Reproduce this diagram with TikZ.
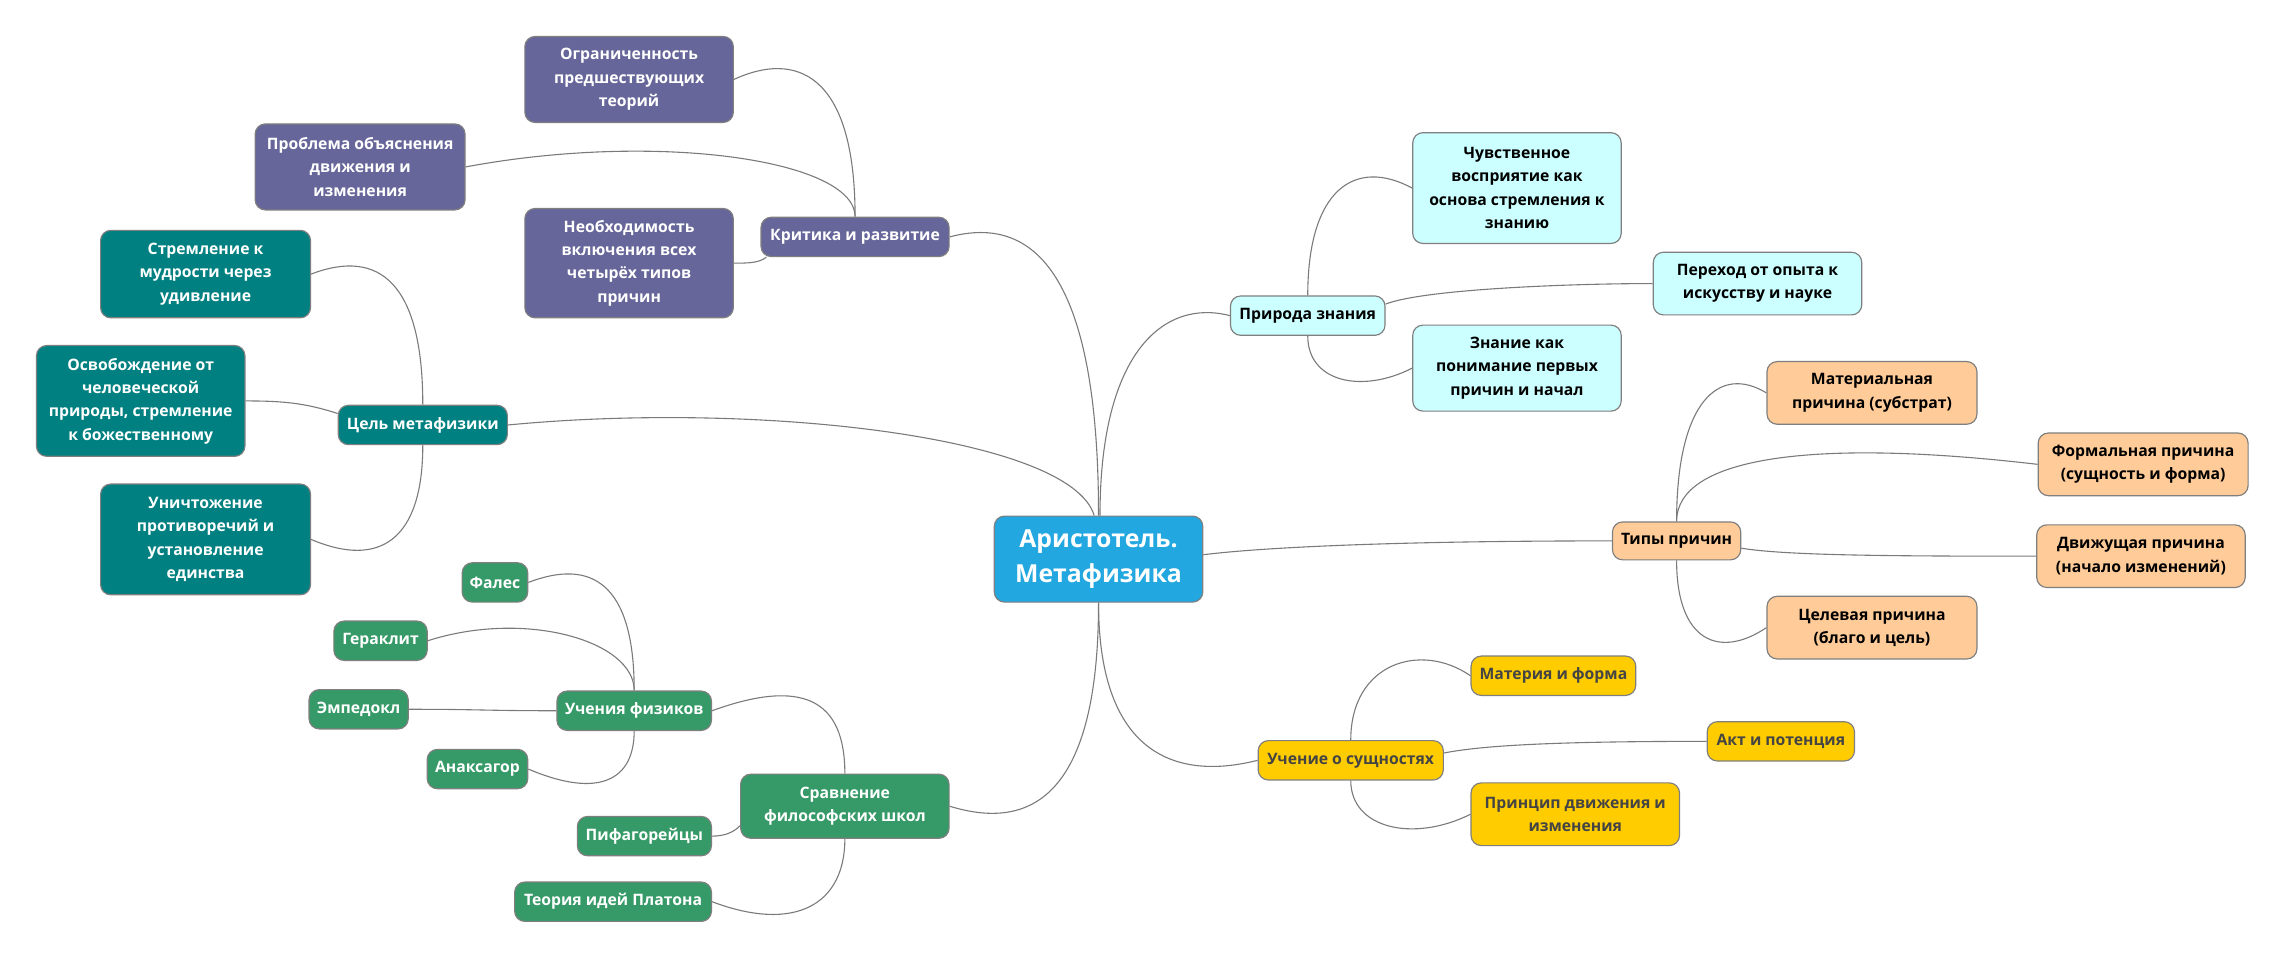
\documentclass[tikz,border=0pt]{standalone}
\usepackage{fontspec}
\setmainfont{Open Sans}
\definecolor{cblue}{HTML}{22A7E0}
\definecolor{cpurple}{HTML}{67669A}
\definecolor{cteal}{HTML}{008080}
\definecolor{cgreen}{HTML}{359A67}
\definecolor{ccyan}{HTML}{CCFFFF}
\definecolor{corange}{HTML}{FFCC99}
\definecolor{cyellow}{HTML}{FFCC00}
\definecolor{cytext}{HTML}{444444}
\definecolor{cborder}{HTML}{7F7F7F}
\definecolor{cedge}{HTML}{7A7A7A}
\pgfdeclarelayer{bg}
\pgfsetlayers{bg,main}
\tikzset{
  box/.style={draw=cborder, line width=0.8pt, rounded corners=7pt, inner sep=0pt,
    align=center, font=\bfseries\fontsize{10.8}{16}\selectfont},
  rootbox/.style={box, fill=cblue, text=white, font=\bfseries\fontsize{17}{24.5}\selectfont},
  purp/.style={box, fill=cpurple, text=white},
  tealbox/.style={box, fill=cteal, text=white},
  greenbox/.style={box, fill=cgreen, text=white},
  cyanbox/.style={box, fill=ccyan, text=black},
  orangebox/.style={box, fill=corange, text=black},
  yellowbox/.style={box, fill=cyellow, text=cytext},
  sz/.style 2 args={minimum width=#1pt, minimum height=#2pt},
  edge/.style={draw=cedge, line width=0.75pt}
}
\begin{document}
\begin{tikzpicture}[x=1pt,y=1pt]
\begin{pgfonlayer}{bg}
\fill[white] (0,0) rectangle (1568,-657.8);
\end{pgfonlayer}
\useasboundingbox (0,0) rectangle (1568,-657.8);
% root
\node[rootbox, sz={143}{59}] (root) at (753.5,-383.5) {Аристотель.\\Метафизика};
% purple
\node[purp, sz={129}{27}] (krit) at (586.5,-162.5) {Критика и развитие};
\node[purp, sz={143}{59}] (ogr) at (431.5,-54.5) {Ограниченность\\предшествующих\\теорий};
\node[purp, sz={144}{59}] (prob) at (247,-114.5) {Проблема объяснения\\движения и\\изменения};
\node[purp, sz={143}{75}] (neob) at (431.5,-180.5) {Необходимость\\включения всех\\четырёх типов\\причин};
% teal
\node[tealbox, sz={116}{27}] (cel) at (290,-291.5) {Цель метафизики};
\node[tealbox, sz={144}{60}] (strem) at (141,-188) {Стремление к\\мудрости через\\удивление};
\node[tealbox, sz={143}{76}] (osv) at (96.5,-275) {Освобождение от\\человеческой\\природы, стремление\\к божественному};
\node[tealbox, sz={144}{76}] (unich) at (141,-370) {Уничтожение\\противоречий и\\установление\\единства};
% green
\node[greenbox, sz={143}{44}] (sravn) at (579.5,-553) {Сравнение\\философских школ};
\node[greenbox, sz={106}{27}] (fiz) at (435,-487.5) {Учения физиков};
\node[greenbox, sz={45}{27}] (fales) at (339.5,-399.5) {Фалес};
\node[greenbox, sz={64}{27}] (ger) at (261,-439.5) {Гераклит};
\node[greenbox, sz={68}{27}] (emp) at (246,-486.5) {Эмпедокл};
\node[greenbox, sz={69}{27}] (anak) at (327.5,-527.5) {Анаксагор};
\node[greenbox, sz={92}{27}] (pifag) at (442,-573.5) {Пифагорейцы};
\node[greenbox, sz={135}{27}] (plat) at (420.5,-618.5) {Теория идей Платона};
% cyan
\node[cyanbox, sz={106}{27}] (pri) at (897,-216.5) {Природа знания};
\node[cyanbox, sz={143}{76}] (chuv) at (1040.5,-129) {Чувственное\\восприятие как\\основа стремления к\\знанию};
\node[cyanbox, sz={143}{43}] (perh) at (1205.5,-194.5) {Переход от опыта к\\искусству и науке};
\node[cyanbox, sz={143}{59}] (znan) at (1040.5,-252.5) {Знание как\\понимание первых\\причин и начал};
% orange
\node[orangebox, sz={88}{26}] (tipy) at (1150,-371) {Типы причин};
\node[orangebox, sz={144}{43}] (matp) at (1284,-269.5) {Материальная\\причина (субстрат)};
\node[orangebox, sz={144}{43}] (form) at (1470,-318.5) {Формальная причина\\(сущность и форма)};
\node[orangebox, sz={143}{43}] (dvig) at (1468.5,-381.5) {Движущая причина\\(начало изменений)};
\node[orangebox, sz={144}{43}] (celp) at (1284,-430.5) {Целевая причина\\(благо и цель)};
% yellow
\node[yellowbox, sz={127}{27}] (uch) at (926.5,-521.5) {Учение о сущностях};
\node[yellowbox, sz={113}{27}] (matf) at (1065.5,-463.5) {Материя и форма};
\node[yellowbox, sz={101}{27}] (akt) at (1221.5,-508.5) {Акт и потенция};
\node[yellowbox, sz={143}{43}] (princ) at (1080.5,-558.5) {Принцип движения и\\изменения};
% edges
\begin{pgfonlayer}{bg}
\draw[edge] (root.north) .. controls +(0,165) and +(58,15.5) .. (krit.east);
\draw[edge] ([xshift=-3pt]root.north) .. controls +(-16,54) and +(172,16.5) .. (cel.east);
\draw[edge] ([xshift=1pt]root.north) .. controls +(0,114) and +(-44,11.5) .. (pri.west);
\draw[edge] ([yshift=3pt]root.east) .. controls +(40,5) and +(-150,0) .. (tipy.west);
\draw[edge] (root.south) .. controls +(0,-142) and +(49,-15) .. (sravn.east);
\draw[edge] (root.south) .. controls +(0,-107) and +(-53,-13.5) .. (uch.west);
\draw[edge] (krit.north) .. controls +(0,99) and +(42,19.5) .. (ogr.east);
\draw[edge] (krit.north) .. controls +(0,39) and +(131,24.5) .. (prob.east);
\draw[edge] ([xshift=4pt]krit.south west) .. controls +(-5,-4) and +(10,0) .. (neob.east);
\draw[edge] (cel.north) .. controls +(0,83) and +(47,18) .. (strem.east);
\draw[edge] ([yshift=-6pt]cel.north west) .. controls +(-22,7) and +(27,0) .. (osv.east);
\draw[edge] (cel.south) .. controls +(0,-65) and +(47,-20) .. (unich.east);
\draw[edge] (sravn.north) .. controls +(0,51) and +(62,22.5) .. (fiz.east);
\draw[edge] ([yshift=9pt]sravn.south west) .. controls +(-5,-5) and +(8,0) .. (pifag.east);
\draw[edge] (sravn.south) .. controls +(0,-45) and +(57,-21.5) .. (plat.east);
\draw[edge] (fiz.north) .. controls +(0,74) and +(43,16.5) .. (fales.east);
\draw[edge] (fiz.north) .. controls +(0,34) and +(67,21.5) .. (ger.east);
\draw[edge] (fiz.west) .. controls +(-50,0) and +(50,0) .. (emp.east);
\draw[edge] (fiz.south) .. controls +(0,-34) and +(48,-20.5) .. (anak.east);
\draw[edge] (pri.north) .. controls +(0,73) and +(-39,21) .. (chuv.west);
\draw[edge] ([yshift=-6pt]pri.north east) .. controls +(25,10) and +(-60,0) .. (perh.west);
\draw[edge] (pri.south) .. controls +(0,-32) and +(-34,-17.5) .. (znan.west);
\draw[edge] (tipy.north) .. controls +(0,83) and +(-32,19.5) .. (matp.west);
\draw[edge] (tipy.north) .. controls +(0,43) and +(-158,18.5) .. (form.west);
\draw[edge] ([yshift=-5pt]tipy.east) .. controls +(30,-5) and +(-100,0) .. (dvig.west);
\draw[edge] (tipy.south) .. controls +(0,-56) and +(-32,-21.5) .. (celp.west);
\draw[edge] (uch.north) .. controls +(0,53) and +(-34,23.5) .. (matf.west);
\draw[edge] ([yshift=5pt]uch.east) .. controls +(30,6) and +(-90,0) .. (akt.west);
\draw[edge] (uch.south) .. controls +(0,-33) and +(-39,-19.5) .. (princ.west);
\end{pgfonlayer}
\end{tikzpicture}
\end{document}
